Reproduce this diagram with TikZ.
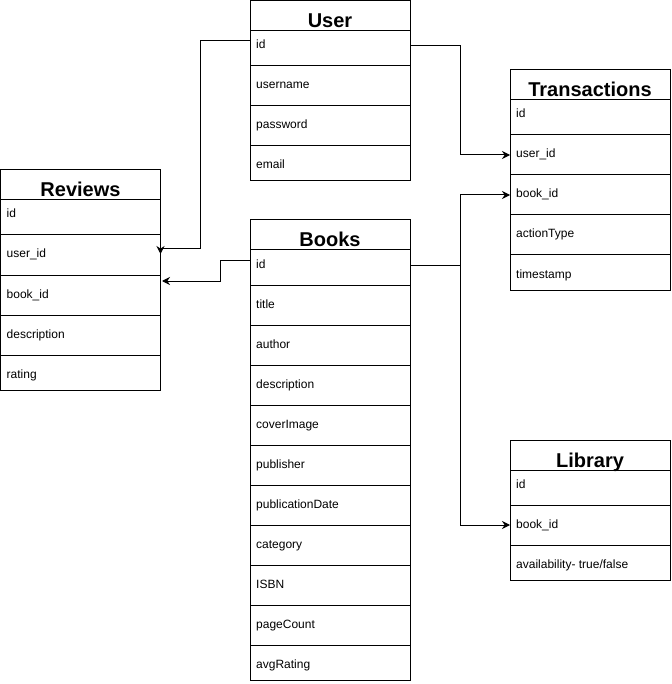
\documentclass[tikz,border=0pt]{standalone}
\usepackage{fontspec}
\setmainfont{Liberation Sans}
\usetikzlibrary{arrows.meta,calc}
\tikzset{
 tblbox/.style={draw=black,line width=1pt,minimum width=160pt,inner sep=0pt,outer sep=0pt,anchor=north west},
 ttl/.style={font=\fontsize{20}{24}\selectfont\bfseries,anchor=base,inner sep=0pt},
 fld/.style={font=\fontsize{12}{14}\selectfont,anchor=base west,inner sep=0pt},
 conn/.style={draw=black,line width=1pt},
 tip/.style={-{Stealth[length=8pt,width=8pt]}}
}
\newcommand\erTable[6]{%
 \node[tblbox,minimum height=30pt] (#1) at (#2,#3) {};
 \node[ttl] (#1-title) at (#2+80,#3+27) {#4};
 \foreach \f [count=\i] in {#6} {
   \pgfmathsetmacro\rt{\i==1 ? #3+30 : #3+25+40*(\i-1)}
   \pgfmathsetmacro\rb{\i==#5 ? #3+20+40*#5 : #3+25+40*\i}
   \pgfmathsetmacro\rh{\rb-\rt}
   \node[tblbox,minimum height=\rh pt] (#1-\i) at (#2,\rt) {};
   \node[fld] (#1-\i-t) at (#2+6,#3+48+40*\i-40) {\f};
 }
}
\begin{document}
\begin{tikzpicture}[x=1pt,y=-1pt]
\useasboundingbox (0,0) rectangle (671,684);
\erTable{user}{250}{0.5}{User}{4}{id,username,password,email}
\erTable{tx}{510}{70}{Transactions}{5}{id,user\_id,book\_id,actionType,timestamp}
\erTable{rev}{0.5}{170}{Reviews}{5}{id,user\_id,book\_id,description,rating}
\erTable{books}{250}{220}{Books}{11}{id,title,author,description,coverImage,publisher,publicationDate,category,ISBN,pageCount,avgRating}
\erTable{lib}{510}{440}{Library}{3}{id,book\_id,availability- true/false}
% User.id -> Reviews.user_id
\draw[conn] ([yshift=7.5pt]user-1.west) -- ++(-49.5,0) |- ([yshift=-14pt]rev-2.north east);
\draw[conn,tip] ([yshift=-10.5pt]rev-2.north east) -- ([yshift=-19pt]rev-2.north east);
% Books.id -> Reviews.book_id
\draw[conn,tip] ([yshift=7.5pt]books-1.west) -- ++(-29.5,0) |- ([yshift=-6pt,xshift=1.5pt]rev-3.north east);
% User.id -> Transactions.user_id
\draw[conn,tip] ([yshift=2.5pt]user-1.east) -- ++(50,0) |- (tx-2.west);
% Books.id -> Transactions.book_id and Library.book_id
\draw[conn,tip] ([yshift=2.5pt]books-1.east) -- ++(50,0) coordinate (j) |- (tx-3.west);
\draw[conn,tip] (j) |- (lib-2.west);
\end{tikzpicture}
\end{document}
